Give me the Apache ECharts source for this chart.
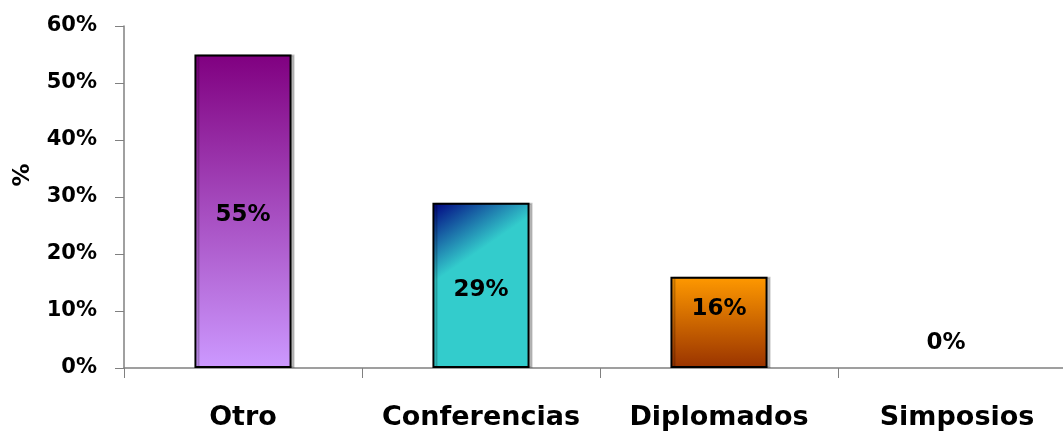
<!DOCTYPE html>
<html><head><meta charset="utf-8">
<script src="https://cdn.jsdelivr.net/npm/echarts@6/dist/echarts.min.js"></script>
<style>html,body{margin:0;padding:0;background:#fff}#c{width:1063px;height:434px}</style>
</head><body><div id="c"></div>
<script>
const categories = ['Otro', 'Conferencias', 'Diplomados', 'Simposios'];
const values = [55, 29, 16, 0];
const yTicks = [0, 10, 20, 30, 40, 50, 60];
const yTitle = '%';

const FONT = 'DejaVu Sans, Liberation Sans, Arial';
const fills = [
  {type:'linear', x:0, y:0, x2:0, y2:1, colorStops:[{offset:0,color:'#800080'},{offset:1,color:'#CC99FF'}]},
  {type:'linear', x:0, y:0, x2:0.7, y2:0.6, colorStops:[{offset:0,color:'#000080'},{offset:0.55,color:'#33CCCC'},{offset:1,color:'#33CCCC'}]},
  {type:'linear', x:0, y:0, x2:0, y2:1, colorStops:[{offset:0,color:'#FF9900'},{offset:1,color:'#993300'}]},
  '#999999'
];
const labelPos = [
  {position:'inside', offset:[0,4]},
  {position:'inside', offset:[0,5]},
  {position:'insideTop', distance:21},
  {position:'top', distance:13, offset:[-11,0]}
];

const chart = echarts.init(document.getElementById('c'));
chart.setOption({
  animation:false,
  grid:{left:124, width:952, top:26, bottom:66, containLabel:false, outerBoundsMode:'none'},
  graphic:[{type:'text', x:23, y:175, rotation:Math.PI/2,
    style:{text:yTitle, font:'bold 23px ' + FONT, fill:'#000', textAlign:'center', textVerticalAlign:'middle'}}],
  xAxis:{
    type:'category', data:categories,
    axisLine:{lineStyle:{color:'#808080', width:1.5}},
    axisTick:{show:true, length:10, lineStyle:{color:'#808080'}},
    axisLabel:{interval:0, hideOverlap:false, color:'#000', fontFamily:FONT, fontWeight:'bold', fontSize:27, margin:36}
  },
  yAxis:{
    type:'value', min:0, max:60, interval:10,
    axisLine:{show:true, lineStyle:{color:'#808080', width:1.5}},
    axisTick:{show:true, length:9, lineStyle:{color:'#808080'}},
    splitLine:{show:false},
    axisLabel:{color:'#000', fontFamily:FONT, fontWeight:'bold', fontSize:21, margin:27,
      formatter: v => yTicks.includes(v) ? v + '%' : ''}
  },
  series:[{
    type:'bar', barWidth:'40.8%',
    data: values.map((v,i)=>({
      value:v,
      itemStyle:{color:fills[i], borderColor:'#000', borderWidth: v>0?2:0,
        shadowColor:'rgba(0,0,0,0.22)', shadowOffsetX:3, shadowOffsetY:0, shadowBlur:0},
      label:Object.assign({show:true, formatter:'{c}%', color:'#000',
        fontFamily:FONT, fontWeight:'bold', fontSize:23}, labelPos[i])
    }))
  }]
});
</script>
</body></html>
